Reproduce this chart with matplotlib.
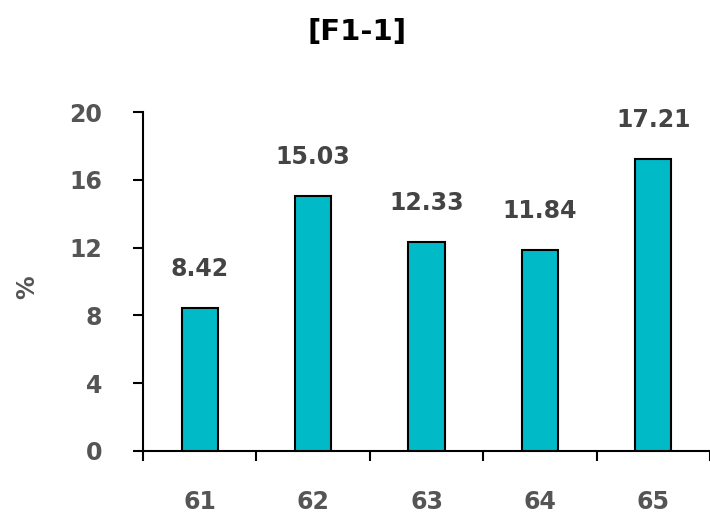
import matplotlib
matplotlib.use("Agg")
import matplotlib.pyplot as plt
import numpy as np

categories = ["61", "62", "63", "64", "65"]
values = [8.42, 15.03, 12.33, 11.84, 17.21]
yticks = [0, 4, 8, 12, 16, 20]

plt.rcParams['font.family'] = ['DejaVu Sans']
fig = plt.figure(figsize=(7.1, 5.15), dpi=100)
ax = fig.add_axes([143/710, 64/515, 567/710, 339/515])

x = np.arange(len(categories))
ax.bar(x, values, width=0.32, color="#00BBC7", edgecolor="black", linewidth=1.5, zorder=3)

grey = "#555555"
for xi, v in zip(x, values):
    ax.annotate(f"{v:.2f}", (xi, v), xytext=(0, 28), textcoords="offset points",
                ha="center", va="center", fontsize=17, fontweight="bold", color="#444444")

ax.set_xlim(-0.5, len(categories) - 0.5)
ax.set_ylim(0, 20)
ax.set_yticks(yticks)
ax.set_yticklabels([str(t) for t in yticks], fontsize=17, fontweight="bold", color=grey)
ax.tick_params(axis="y", length=7.2, width=1.5, pad=22, direction="out")

ax.set_xticks(np.arange(len(categories) + 1) - 0.5)
ax.set_xticklabels([""] * (len(categories) + 1))
ax.tick_params(axis="x", which="major", length=7.2, width=1.5, direction="out")
ax.set_xticks(x, minor=True)
ax.set_xticklabels(categories, minor=True, fontsize=17, fontweight="bold", color=grey)
ax.tick_params(axis="x", which="minor", length=0, pad=28)

for s in ["top", "right"]:
    ax.spines[s].set_visible(False)
for s in ["left", "bottom"]:
    ax.spines[s].set_linewidth(1.5)

fig.text(27/710, 1 - 287/515, "%", rotation=90, ha="center", va="center",
         fontsize=17, fontweight="bold", color=grey)
fig.text(357/710, 1 - 32/515, "[F1-1]", ha="center", va="center", fontsize=21, fontweight="bold", color="black")

fig.savefig("out.png", dpi=100)
